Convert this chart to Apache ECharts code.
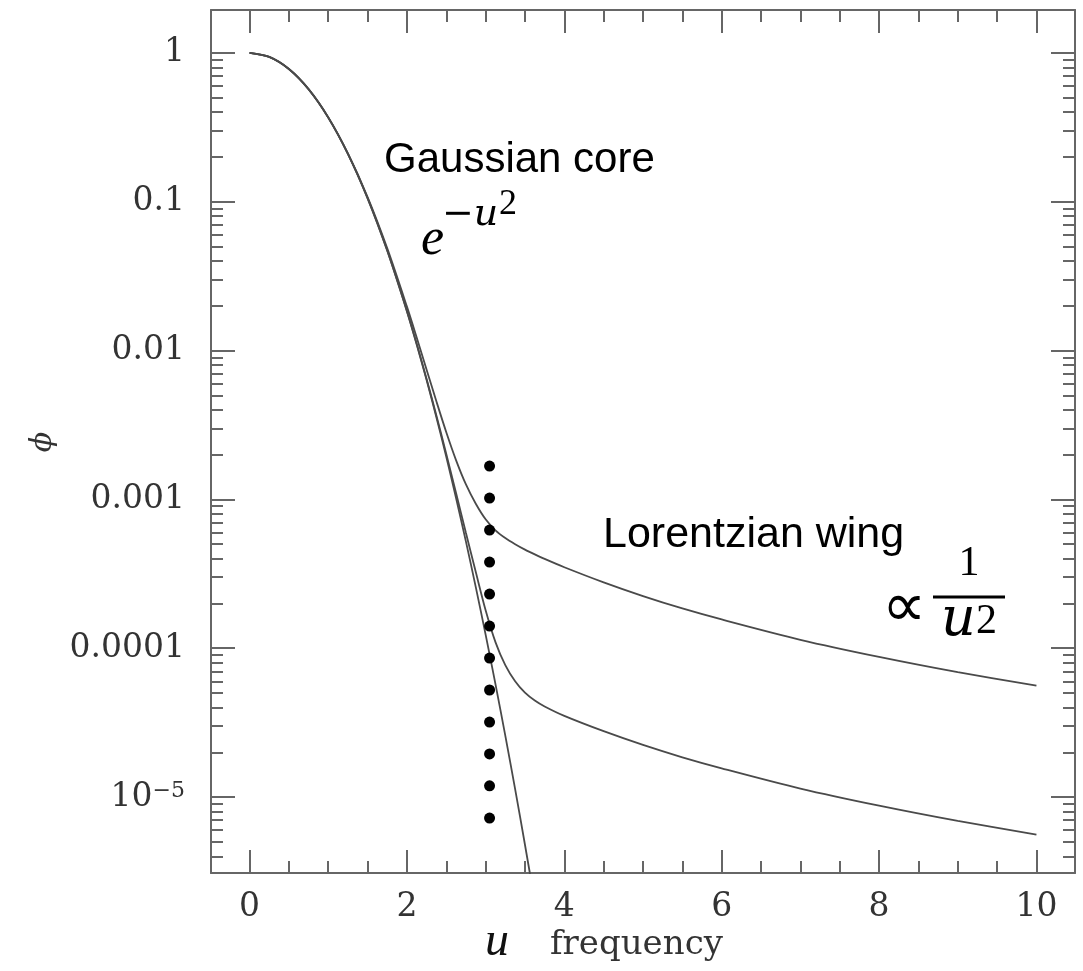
<!DOCTYPE html>
<html>
<head>
<meta charset="utf-8">
<script src="https://cdn.jsdelivr.net/npm/echarts@6/dist/echarts.min.js"></script>
<style>
html,body{margin:0;padding:0;background:#fff;}
#chart{width:1083px;height:971px;}
</style>
</head>
<body>
<div id="chart"></div>
<script>
// ---------- data ----------
const uGrid = [0,0.25,0.5,0.75,1,1.25,1.5,1.75,2,2.125,2.25,2.375,2.5,2.625,2.75,2.875,3,3.125,3.25,3.375,3.5,3.625,3.75,4,4.5,5,5.5,6,7,8,9,10];
const phiGaussian = [1,0.9394,0.7788,0.5698,0.3679,0.2096,0.1054,0.04677,0.01832,0.01094,0.006330,0.003553,0.001930,0.001018,0.0005199,0.0002573,0.0001234,5.739e-5,2.587e-5,1.130e-5,4.785e-6,1.964e-6,7.81e-7];
const phiStrongWing = [1,0.9395,0.7790,0.5702,0.3686,0.2108,0.1075,0.0486,0.01972,0.01218,0.007436,0.004546,0.002827,0.001830,0.001260,0.000935,0.000735,0.000620,0.000550,0.000500,0.000460,0.000427,0.000398,0.000350,0.000277,0.000224,0.000185,0.000156,0.000114,8.75e-5,6.91e-5,5.6e-5];
const phiWeakWing = [1,0.9394,0.7788,0.5699,0.3680,0.2097,0.1056,0.04695,0.01846,0.01106,0.006440,0.003652,0.002020,0.001099,0.000594,0.000325,0.000180,0.000110,7.7e-5,6.0e-5,5.03e-5,4.45e-5,4.06e-5,3.51e-5,2.77e-5,2.24e-5,1.85e-5,1.56e-5,1.14e-5,8.75e-6,6.91e-6,5.6e-6];
const dotU = [3.05,3.05,3.05,3.05,3.05,3.05,3.05,3.05,3.05,3.05,3.05,3.05];
const dotPhi = [1.675e-3,1.021e-3,6.22e-4,3.79e-4,2.31e-4,1.41e-4,8.59e-5,5.24e-5,3.19e-5,1.95e-5,1.19e-5,7.23e-6];
const xMajorTicks = [0,2,4,6,8,10];
const xMinorTicks = [0.5,1,1.5,2.5,3,3.5,4.5,5,5.5,6.5,7,7.5,8.5,9,9.5];
const yMajorTicks = [1,0.1,0.01,0.001,0.0001,1e-5];
const yTickLabels = ['1','0.1','0.01','0.001','0.0001','10{s|\u22125}'];
const yMinorMultipliers = [2,3,4,5,6,7,8,9];
const yMinorDecades = [1e-6,1e-5,1e-4,1e-3,1e-2,1e-1];
const xRange = [-0.49,10.49];
const yRange = [3.09e-6,1.94];

// ---------- helpers ----------
const lg = Math.log10;
const yMin = lg(yRange[0]), yMax = lg(yRange[1]);
const yMajorLog = yMajorTicks.map(lg);
const yMinorLog = [];
yMinorDecades.forEach(d => yMinorMultipliers.forEach(m => {
  const v = lg(m*d);
  if (v > yMin && v < yMax) yMinorLog.push(v);
}));
const pairs = (us, ps) => ps.map((p,i) => [us[i], lg(p)]);

const AX = '#666';
const TXT = '#333';
const SERIF = '"DejaVu Serif", serif';
const TIMES = '"Liberation Serif", serif';
const SANS = '"Liberation Sans", Arial, sans-serif';

function xAxisDef(pos, major, labels){
  return {
    type:'value', position:pos, min:xRange[0], max:xRange[1],
    axisLine:{show:major, onZero:false, lineStyle:{color:AX, width:2}},
    axisTick:{show:true, inside:true, length: major?23:12, customValues: major?xMajorTicks:xMinorTicks, lineStyle:{color:AX,width:2}},
    axisLabel: labels ? {show:true, customValues:xMajorTicks, margin:18, color:TXT, fontSize:33, fontFamily:SERIF} : {show:false},
    splitLine:{show:false}
  };
}
function yAxisDef(pos, major, labels){
  return {
    type:'value', position:pos, min:yMin, max:yMax,
    axisLine:{show:major, onZero:false, lineStyle:{color:AX, width:2}},
    axisTick:{show:true, inside:true, length: major?24:12, customValues: major?yMajorLog:yMinorLog, lineStyle:{color:AX,width:2}},
    axisLabel: labels ? {
      show:true, customValues:yMajorLog, margin:26, color:TXT, fontSize:33, fontFamily:SERIF,
      formatter: v => { const i = yMajorLog.findIndex(t => Math.abs(t-v)<1e-6); return i>=0 ? yTickLabels[i] : ''; },
      rich:{ s:{fontSize:22, fontFamily:SERIF, color:TXT, verticalAlign:'top', lineHeight:22} }
    } : {show:false},
    splitLine:{show:false}
  };
}

const chart = echarts.init(document.getElementById('chart'), null, {renderer:'canvas'});
const lineStyle = {color:'#4a4a4a', width:1.8};
chart.setOption({
  animation:false,
  backgroundColor:'#fff',
  grid:{left:211, right:8, top:10, bottom:98, containLabel:false, outerBoundsMode:'none'},
  xAxis:[xAxisDef('bottom',true,true), xAxisDef('bottom',false,false), xAxisDef('top',true,false), xAxisDef('top',false,false)],
  yAxis:[yAxisDef('left',true,true), yAxisDef('left',false,false), yAxisDef('right',true,false), yAxisDef('right',false,false)],
  series:[
    {type:'line', name:'a=0.01', data:pairs(uGrid, phiStrongWing), showSymbol:false, smooth:0.3, lineStyle, clip:true, z:2},
    {type:'line', name:'a=0.001', data:pairs(uGrid, phiWeakWing), showSymbol:false, smooth:0.3, lineStyle, clip:true, z:2},
    {type:'line', name:'Gaussian', data:pairs(uGrid, phiGaussian), showSymbol:false, smooth:0.3, lineStyle, clip:true, z:2},
    {type:'scatter', name:'dots', data:pairs(dotU, dotPhi), symbol:'circle', symbolSize:11, itemStyle:{color:'#000', opacity:1}, z:3}
  ],
  graphic:[
    {type:'text', x:43, y:442, rotation:Math.PI/2, style:{text:'\u03d5', fontSize:30, fontStyle:'italic', fontFamily:SERIF, fill:TXT, align:'center', verticalAlign:'middle'}},
    {type:'text', x:485, y:942, style:{text:'u', fontSize:48, fontStyle:'italic', fontFamily:TIMES, fill:'#111', align:'left', verticalAlign:'middle'}},
    {type:'text', x:550, y:945.6, style:{text:'frequency', fontSize:34, fontFamily:SERIF, fill:TXT, align:'left', verticalAlign:'middle'}},
    {type:'text', x:384, y:160.5, style:{text:'Gaussian core', fontSize:42, fontFamily:SANS, fill:'#000', align:'left', verticalAlign:'middle'}},
    {type:'text', x:421, y:240.5, style:{text:'e', fontSize:52, fontStyle:'italic', fontFamily:TIMES, fill:'#000', align:'left', verticalAlign:'middle'}},
    {type:'text', x:442, y:214.9, style:{text:'\u2212u', fontSize:38, fontStyle:'italic', fontFamily:SERIF, fill:'#000', align:'left', verticalAlign:'middle'}},
    {type:'text', x:499, y:204.8, style:{text:'2', fontSize:36, fontFamily:TIMES, fill:'#000', align:'left', verticalAlign:'middle'}},
    {type:'text', x:603, y:535, style:{text:'Lorentzian wing', fontSize:43, fontFamily:SANS, fill:'#000', align:'left', verticalAlign:'middle'}},
    {type:'text', x:904, y:609, style:{text:'\u221d', fontSize:62, fontFamily:SANS, fill:'#000', align:'center', verticalAlign:'middle'}},
    {type:'line', shape:{x1:933, y1:597, x2:1005, y2:597}, style:{stroke:'#000', lineWidth:3}},
    {type:'text', x:969, y:563.8, style:{text:'1', fontSize:42, fontFamily:TIMES, fill:'#000', align:'center', verticalAlign:'middle'}},
    {type:'text', x:941, y:621.3, style:{text:'u', fontSize:54, fontStyle:'italic', fontFamily:SERIF, fill:'#000', align:'left', verticalAlign:'middle'}},
    {type:'text', x:976, y:622, style:{text:'2', fontSize:42, fontFamily:TIMES, fill:'#000', align:'left', verticalAlign:'middle'}}
  ]
});
</script>
</body>
</html>
